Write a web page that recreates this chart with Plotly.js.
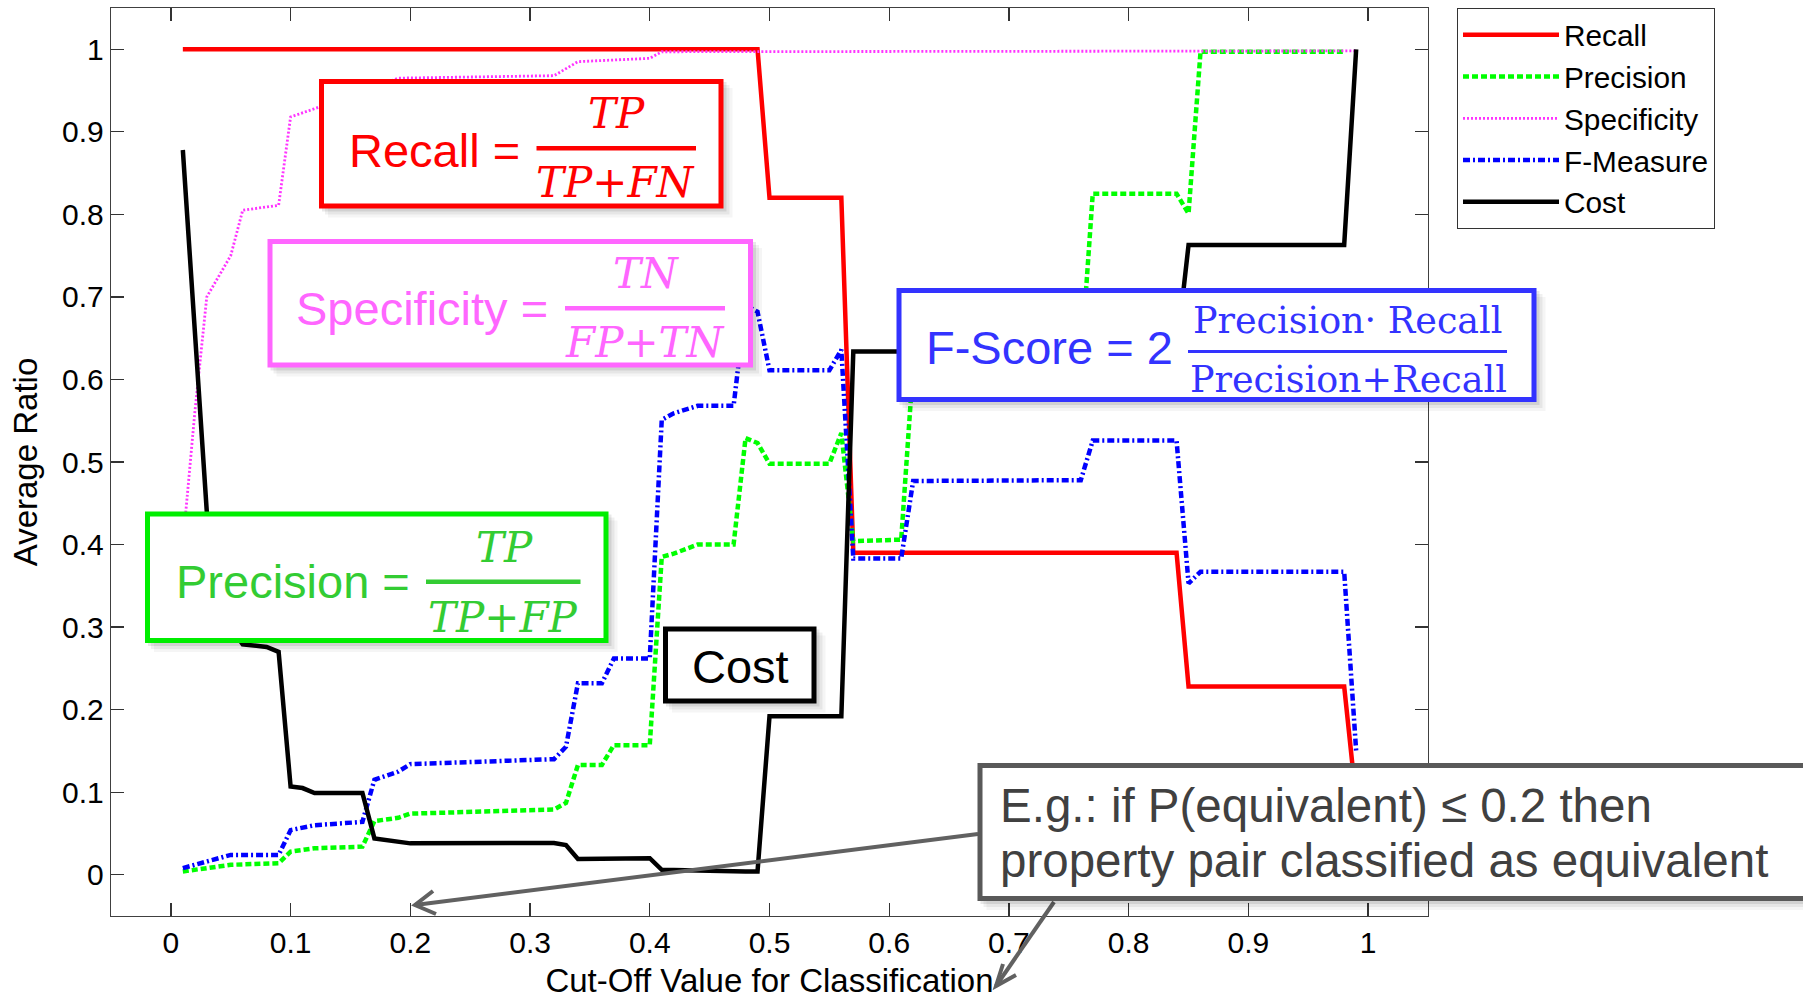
<!DOCTYPE html>
<html><head><meta charset="utf-8">
<script src="https://cdn.plot.ly/plotly-3.0.1.min.js"></script>
<style>html,body{margin:0;padding:0;background:#fff;} #chart{width:1803px;height:999px;}</style>
</head><body><div id="chart"></div>
<script>
// ---------------- data ----------------
const seriesNames = ['Recall', 'Precision', 'Specificity', 'F-Measure', 'Cost'];

const recallX = [0.01, 0.49, 0.50, 0.56, 0.57, 0.84, 0.85, 0.98, 0.99];
const recallY = [1.0, 1.0, 0.82, 0.82, 0.39, 0.39, 0.228, 0.228, 0.09];

const precisionX = [0.01, 0.05, 0.09, 0.10, 0.12, 0.16, 0.17, 0.19, 0.20, 0.32, 0.33, 0.34, 0.36, 0.37, 0.40, 0.41, 0.42, 0.44, 0.47, 0.48, 0.49, 0.50, 0.55, 0.56, 0.57, 0.61, 0.62, 0.76, 0.77, 0.84, 0.85, 0.86, 0.98];
const precisionY = [0.004, 0.012, 0.014, 0.028, 0.032, 0.034, 0.065, 0.069, 0.074, 0.079, 0.087, 0.133, 0.133, 0.157, 0.157, 0.385, 0.389, 0.40, 0.40, 0.529, 0.523, 0.498, 0.498, 0.535, 0.404, 0.406, 0.617, 0.617, 0.825, 0.825, 0.801, 0.997, 0.997];

const specificityX = [0.01, 0.02, 0.03, 0.04, 0.05, 0.06, 0.09, 0.10, 0.12, 0.19, 0.32, 0.34, 0.40, 0.41, 0.99];
const specificityY = [0.40, 0.56, 0.70, 0.725, 0.75, 0.805, 0.811, 0.918, 0.928, 0.965, 0.968, 0.985, 0.989, 0.997, 0.998];

const fmeasureX = [0.01, 0.02, 0.05, 0.09, 0.10, 0.12, 0.16, 0.17, 0.19, 0.20, 0.32, 0.33, 0.34, 0.36, 0.37, 0.40, 0.41, 0.42, 0.44, 0.47, 0.48, 0.49, 0.50, 0.55, 0.56, 0.57, 0.61, 0.62, 0.76, 0.77, 0.84, 0.85, 0.86, 0.98, 0.99];
const fmeasureY = [0.008, 0.012, 0.024, 0.024, 0.054, 0.06, 0.064, 0.115, 0.125, 0.134, 0.14, 0.155, 0.232, 0.232, 0.262, 0.262, 0.551, 0.559, 0.568, 0.568, 0.69, 0.682, 0.611, 0.611, 0.636, 0.383, 0.383, 0.477, 0.478, 0.526, 0.526, 0.353, 0.367, 0.367, 0.15];

const costX = [0.01, 0.02, 0.03, 0.04, 0.05, 0.06, 0.08, 0.09, 0.10, 0.11, 0.12, 0.16, 0.17, 0.20, 0.32, 0.33, 0.34, 0.40, 0.41, 0.48, 0.49, 0.50, 0.56, 0.57, 0.84, 0.85, 0.98, 0.99];
const costY = [0.878, 0.66, 0.44, 0.35, 0.30, 0.279, 0.276, 0.27, 0.107, 0.105, 0.099, 0.099, 0.044, 0.038, 0.0385, 0.036, 0.019, 0.02, 0.006, 0.004, 0.004, 0.192, 0.192, 0.634, 0.634, 0.763, 0.763, 1.0];

const tickVals = [0, 0.1, 0.2, 0.3, 0.4, 0.5, 0.6, 0.7, 0.8, 0.9, 1];
const tickText = ['0', '0.1', '0.2', '0.3', '0.4', '0.5', '0.6', '0.7', '0.8', '0.9', '1'];

const xTitle = 'Cut-Off Value for Classification';
const yTitle = 'Average Ratio';

// ---------------- geometry helpers (pixel -> paper) ----------------
const L = 111, T = 8, W = 1317, H = 908;
const X = px => (px - L) / W;
const Y = py => (T + H - py) / H;

const SANS = 'Liberation Sans, Arial, Helvetica, sans-serif';
const SERIF = 'DejaVu Serif, serif';

// ---------------- traces ----------------
const traces = [
  {x: recallX, y: recallY, name: seriesNames[0], mode: 'lines', line: {color: '#ff0000', width: 4.5}},
  {x: precisionX, y: precisionY, name: seriesNames[1], mode: 'lines', line: {color: '#00ff00', width: 4.5, dash: '6px,3px'}},
  {x: specificityX, y: specificityY, name: seriesNames[2], mode: 'lines', line: {color: '#ff33ff', width: 2.8, dash: '2px,2px'}},
  {x: fmeasureX, y: fmeasureY, name: seriesNames[3], mode: 'lines', line: {color: '#0000ff', width: 4.5, dash: '7px,3px,2px,3px'}},
  {x: costX, y: costY, name: seriesNames[4], mode: 'lines', line: {color: '#000000', width: 4.5}}
];

// ---------------- decorations ----------------
const shapes = [];
const annotations = [];

function addBox(x0, y0, x1, y1, color, lw) {
  [[3, 0.09], [6, 0.06], [9, 0.04]].forEach(([o, a]) => {
    shapes.push({type: 'rect', xref: 'paper', yref: 'paper', layer: 'above',
      x0: X(x0 + o), x1: X(x1 + o), y0: Y(y0 + o), y1: Y(y1 + o),
      fillcolor: 'rgba(0,0,0,' + a + ')', line: {width: 0}});
  });
  shapes.push({type: 'rect', xref: 'paper', yref: 'paper', layer: 'above',
    x0: X(x0 + lw / 2), x1: X(x1 - lw / 2), y0: Y(y0 + lw / 2), y1: Y(y1 - lw / 2),
    fillcolor: '#ffffff', line: {color: color, width: lw}});
}
function addBar(x0, x1, y, color, w) {
  shapes.push({type: 'line', xref: 'paper', yref: 'paper', layer: 'above',
    x0: X(x0), x1: X(x1), y0: Y(y), y1: Y(y), line: {color: color, width: w}});
}
function addText(text, x, y, anchor, family, size, color) {
  annotations.push({text: text, x: X(x), y: Y(y), xref: 'paper', yref: 'paper',
    xanchor: anchor, yanchor: 'middle', showarrow: false, borderpad: 0,
    font: {family: family, size: size, color: color}});
}
function addArrow(tail, tip, w1, w2, color) {
  shapes.push({type: 'line', xref: 'paper', yref: 'paper', layer: 'above',
    x0: X(tail[0]), y0: Y(tail[1]), x1: X(tip[0]), y1: Y(tip[1]), line: {color: color, width: 4}});
  shapes.push({type: 'path', xref: 'paper', yref: 'paper', layer: 'above',
    path: 'M' + X(w1[0]) + ',' + Y(w1[1]) + ' L' + X(tip[0]) + ',' + Y(tip[1]) + ' L' + X(w2[0]) + ',' + Y(w2[1]),
    line: {color: color, width: 4}});
}

// Recall box
addBox(319, 79, 723.5, 208.5, '#ff0000', 5);
addText('Recall =', 348, 150, 'left', SANS, 47, '#ff0000');
addText('<i>TP</i>', 616, 113.5, 'center', SERIF, 42, '#ff0000');
addBar(536.5, 696, 148.3, '#ff0000', 4.5);
addText('<i>TP+FN</i>', 615.5, 182.5, 'center', SERIF, 42, '#ff0000');

// Specificity box
addBox(267.5, 239, 753, 367.5, '#ff66ff', 5);
addText('Specificity =', 295, 309, 'left', SANS, 47, '#ff66ff');
addText('<i>TN</i>', 646, 273, 'center', SERIF, 42, '#ff66ff');
addBar(565, 725, 308.3, '#ff66ff', 4.5);
addText('<i>FP+TN</i>', 645, 342, 'center', SERIF, 42, '#ff66ff');

// Precision box
addBox(145, 511.5, 608.5, 643, '#00ee00', 5);
addText('Precision =', 175, 581.5, 'left', SANS, 47, '#33cc33');
addText('<i>TP</i>', 504, 547, 'center', SERIF, 42, '#33cc33');
addBar(426, 580.5, 581.7, '#33cc33', 4.5);
addText('<i>TP+FP</i>', 503, 617, 'center', SERIF, 42, '#33cc33');

// Cost box
addBox(663, 626.5, 816.5, 703.5, '#000000', 5);
addText('Cost', 740, 666, 'center', SANS, 47, '#000000');

// F-Score box
addBox(896.5, 288, 1536.5, 402, '#3333ff', 5);
addText('F-Score = 2', 924.5, 347.5, 'left', SANS, 47, '#3333ff');
addText('Precision\u00b7 Recall', 1347.5, 320.5, 'center', SERIF, 36.5, '#3333ff');
addBar(1188, 1507, 351.5, '#3333ff', 3.2);
addText('Precision+Recall', 1348, 379, 'center', SERIF, 36.5, '#3333ff');

// Example box with arrows
addArrow([978, 834], [415, 905], [436, 914], [433, 891], '#616161');
addArrow([1054, 902], [996, 986], [1016, 975], [1003, 964], '#616161');
addBox(977.5, 763, 1850, 901, '#595959', 5);
addText('E.g.: if P(equivalent) \u2264 0.2 then', 999, 805, 'left', SANS, 47.5, '#404040');
addText('property pair classified as equivalent', 999, 860, 'left', SANS, 47.5, '#404040');

// ---------------- layout ----------------
const axisCommon = {
  range: [-0.05, 1.05], tickmode: 'array', tickvals: tickVals, ticktext: tickText,
  ticks: 'inside', ticklen: 13, tickwidth: 1.3, tickcolor: '#333',
  showline: true, linecolor: '#404040', linewidth: 1.3, mirror: 'ticks',
  showgrid: false, zeroline: false, automargin: false, fixedrange: true,
  tickfont: {family: SANS, size: 30, color: '#000'}
};

const layout = {
  width: 1803, height: 999,
  margin: {l: L, r: 1803 - L - W, t: T, b: 999 - T - H, pad: 0},
  paper_bgcolor: '#fff', plot_bgcolor: '#fff',
  showlegend: true,
  legend: {x: X(1457), y: Y(8), xanchor: 'left', yanchor: 'top', bgcolor: '#fff',
    bordercolor: '#333', borderwidth: 1, itemwidth: 96,
    font: {family: SANS, size: 29.8, color: '#000'}},
  xaxis: Object.assign({}, axisCommon, {title: {text: xTitle, standoff: 14, font: {family: SANS, size: 33, color: '#000'}}}),
  yaxis: Object.assign({}, axisCommon, {title: {text: yTitle, standoff: 14, font: {family: SANS, size: 33, color: '#000'}}}),
  shapes: shapes,
  annotations: annotations
};

Plotly.newPlot('chart', traces, layout, {displayModeBar: false, staticPlot: true});
</script>
</body></html>
